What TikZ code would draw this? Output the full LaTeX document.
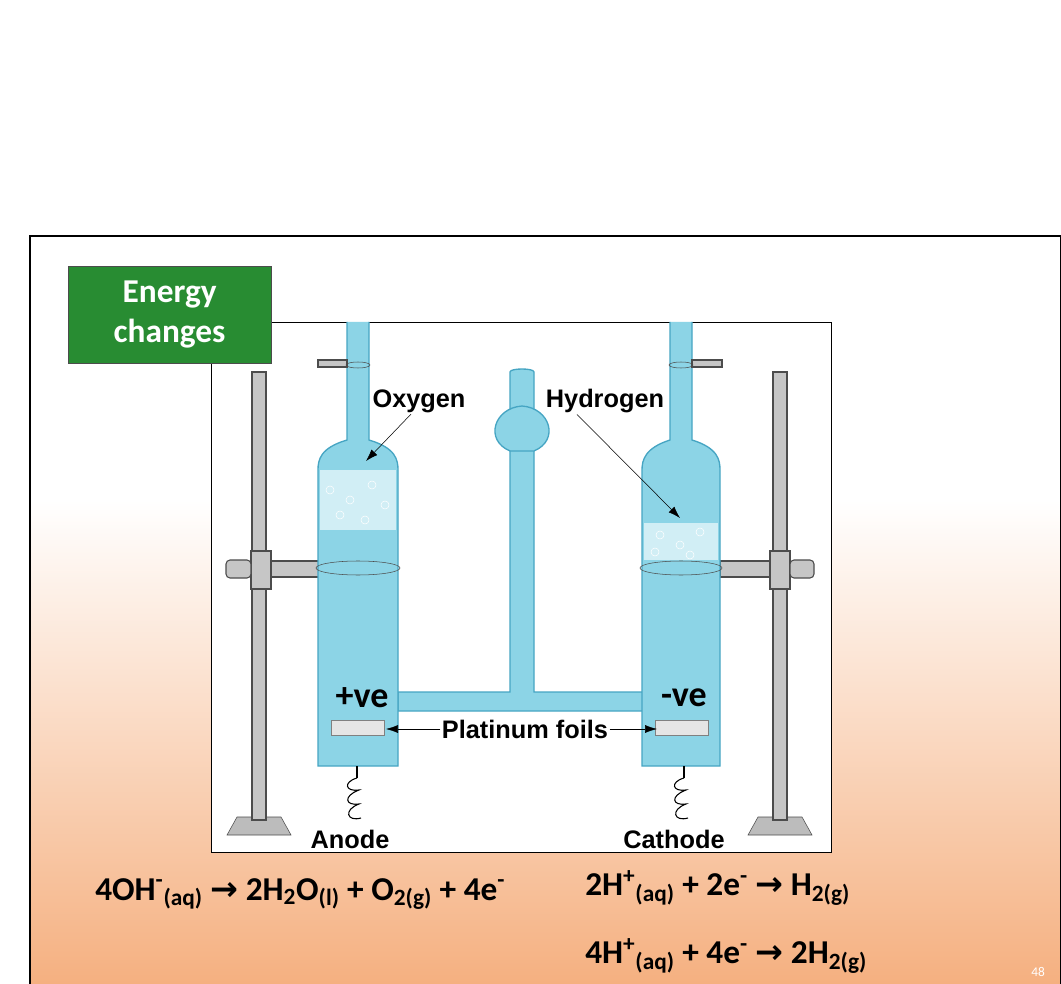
\documentclass[tikz,border=0pt]{standalone}
\usepackage{fontspec}
\setmainfont{Carlito}
\newfontfamily\labelfont{Liberation Sans}
\newfontfamily\symfont{DejaVu Sans}
\usetikzlibrary{positioning,arrows.meta}
\definecolor{slideorange}{RGB}{245,176,128}
\definecolor{titlegreen}{RGB}{40,140,50}
\definecolor{water}{RGB}{140,212,230}
\definecolor{glass}{RGB}{70,165,195}
\definecolor{steel}{RGB}{160,160,160}
\tikzset{
  tube/.style={fill=water,draw=glass,line width=1pt},
  rod/.style={fill=steel!60,draw=black!70,line width=0.8pt},
  eqn/.style={font=\bfseries\fontsize{25}{30}\selectfont,anchor=west,inner sep=0pt},
  app label/.style={font=\labelfont\bfseries\fontsize{19}{22}\selectfont,inner sep=1pt},
  sign/.style={font=\bfseries\fontsize{27}{30}\selectfont,inner sep=0pt},
  pointer/.style={-{Latex[length=9pt,width=6pt]},thin}
}
\newcommand{\chsub}[1]{\textsubscript{#1}}
\newcommand{\chsup}[1]{\textsuperscript{#1}}
\newcommand{\yields}{{\symfont\bfseries →}}
\begin{document}
\begin{tikzpicture}[x=0.75pt,y=-0.75pt]
\useasboundingbox (0,0) rectangle (1061,984);
% slide background
\fill[white] (0,0) rectangle (1061,984);
\fill[white] (30,236) rectangle (1061,500);
\shade[top color=white,bottom color=slideorange] (30,500) rectangle (1061,984);
\draw[line width=2.2pt] (30,984) -- (30,236) -- (1061,236) -- (1061,984);
\node[font=\fontsize{10}{12}\selectfont,text=white] (pagenum) at (1038,972) {48};

% apparatus panel
\node[draw=black,fill=white,line width=0.6pt,minimum width=465pt,minimum height=397.5pt,inner sep=0pt,anchor=north west] (panel) at (211,322) {};

% stands
\foreach \x in {259,780}{
  \fill[steel!70,draw=black!70] (\x-32,835) -- (\x+32,835) -- (\x+22,817) -- (\x-22,817) -- cycle;
  \draw[rod] (\x-7,372) rectangle (\x+7,820);
}
% clamps
\draw[rod] (268,561) rectangle (320,577);
\draw[rod] (251,551) rectangle (271,589);
\draw[rod,rounded corners=3pt] (226,560) rectangle (251,578);
\draw[rod] (720,561) rectangle (772,577);
\draw[rod] (770,551) rectangle (790,589);
\draw[rod,rounded corners=3pt] (790,560) rectangle (814,578);

% centre pipe and bulb
\draw[tube] (510,372) -- (510,692) -- (398,692) -- (398,711) -- (645,711) -- (645,692) -- (534,692) -- (534,372) .. controls (534,368) and (510,368) .. (510,372) -- cycle;
\draw[tube] (522,406) .. controls (550,408) and (560,440) .. (534,451) -- (510,451) .. controls (484,440) and (494,408) .. (522,406) -- cycle;

% tubes
\draw[tube] (347,322) -- (347,440) .. controls (320,448) and (318,460) .. (318,470) -- (318,766) -- (398,766) -- (398,470) .. controls (398,460) and (396,448) .. (369,440) -- (369,322);
\fill[white!60!water] (320,470) rectangle (396,530);
\draw[tube] (670,322) -- (670,440) .. controls (645,448) and (642,460) .. (642,470) -- (642,766) -- (720,766) -- (720,470) .. controls (720,460) and (718,448) .. (692,440) -- (692,322);
\fill[white!60!water] (644,523) rectangle (718,560);
\foreach \bx/\by in {330/490,350/500,372/485,340/515,385/505,365/520,660/535,680/545,700/532,690/555,655/552}
  \draw[white,thin] (\bx,\by) circle (4);
% rings and neck clips
\draw[black!70] (358,568) ellipse (42 and 7);
\draw[black!70] (681,568) ellipse (41 and 7);
\draw[rod] (318,360) rectangle (347,367);
\draw[rod] (692,360) rectangle (722,367);
\draw[black!70] (358,365) ellipse (12 and 3);
\draw[black!70] (681,365) ellipse (12 and 3);

% platinum foils and springs
\draw[fill=black!10,draw=black!50] (331,720) rectangle (384,735);
\draw[fill=black!10,draw=black!50] (655,720) rectangle (708,735);
\foreach \x in {357,684}{
  \draw[thick] (\x,766) -- (\x,778);
  \draw[thick] (\x,778) .. controls (\x-14,782) and (\x-12,792) .. (\x+2,790)
    .. controls (\x-14,796) and (\x-12,806) .. (\x+2,804)
    .. controls (\x-14,810) and (\x-10,822) .. (\x+4,818);
}

% labels
\node[app label] (oxygen) at (419,401) {Oxygen};
\node[app label] (hydrogen) at (605,401) {Hydrogen};
\coordinate (oxgas) at (366,461);
\coordinate (hgas) at (680,518);
\draw[pointer] (oxygen.south) ++(-8,0) -- (oxgas);
\draw[pointer] (hydrogen.south) ++(-28,0) -- (hgas);
\node[app label] (foils) at (525,729) {Platinum foils};
\coordinate (leftfoil) at (386,729);
\coordinate (rightfoil) at (657,729);
\draw[pointer] (foils.west) -- (leftfoil);
\draw[pointer] (foils.east) -- (rightfoil);
\node[app label] (anode) at (350,839) {Anode};
\node[app label] (cathode) at (674,839) {Cathode};
\node[sign] (plus) at (362,698) {+ve};
\node[sign] (minus) at (684,698) {-ve};

% title box
\node[draw=black!70,fill=titlegreen,text=white,font=\bfseries\fontsize{25}{30}\selectfont,minimum width=152pt,minimum height=73pt,align=center,anchor=north west] (title) at (68,266) {Energy\\changes};

% equations
\node[eqn] (anodeeq) at (95,894) {4OH\chsup{-}\chsub{(aq)} \yields{} 2H\chsub{2}O\chsub{(l)} + O\chsub{2(g)} + 4e\chsup{-}};
\node[eqn] (cathodeeq) at (585,888) {2H\chsup{+}\chsub{(aq)} + 2e\chsup{-} \yields{} H\chsub{2(g)}};
\node[eqn] (cathodeeqb) at (585,956) {4H\chsup{+}\chsub{(aq)} + 4e\chsup{-} \yields{} 2H\chsub{2(g)}};
\end{tikzpicture}
\end{document}
